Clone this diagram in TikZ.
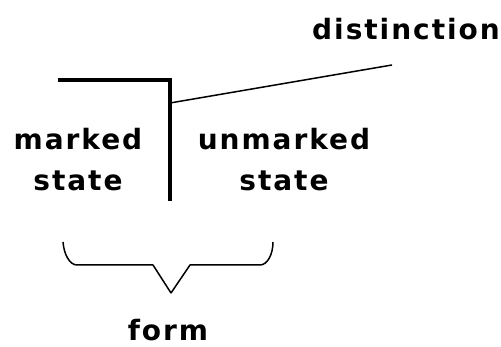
\documentclass[tikz,border=0pt]{standalone}
\usepackage{fontspec}
\setmainfont{DejaVu Sans}[LetterSpace=7]
\usetikzlibrary{positioning}

\begin{document}
\begin{tikzpicture}[x=1pt, y=-1pt, every node/.style={font=\bfseries\fontsize{28}{41}\selectfont, inner sep=0pt}, cross/.style={line width=4pt}, thin line/.style={line width=1.5pt}]
  \useasboundingbox (0,0) rectangle (501,347);
  % Cross of distinction
  \coordinate (CrossLeft) at (58,80);
  \coordinate (CrossCorner) at (170,80);
  \coordinate (CrossFoot) at (170,201);
  \coordinate (CrossMid) at (170,103);
  \coordinate (Pointer) at (392,65);
  \draw[cross] (CrossLeft) -- (CrossCorner) -- (CrossFoot);

  % States
  \node (Marked) [align=center] at (78,160) {marked\\state};
  \node (Unmarked) [align=center] at (284,160) {unmarked\\state};
  \node (Distinction) [anchor=base east] at (500,40) {distinction};
  \node (Form) [anchor=base] at (168,341) {form};

  % Relationships
  \draw[thin line] (CrossMid) -- (Pointer);
  \draw[thin line, line join=round] (63,242) .. controls (64,255) and (70,265) .. (77,265)
    -- (153,265) -- (171,293) -- (190,265) -- (260,265)
    .. controls (267,265) and (273,255) .. (273,242);
\end{tikzpicture}
\end{document}
